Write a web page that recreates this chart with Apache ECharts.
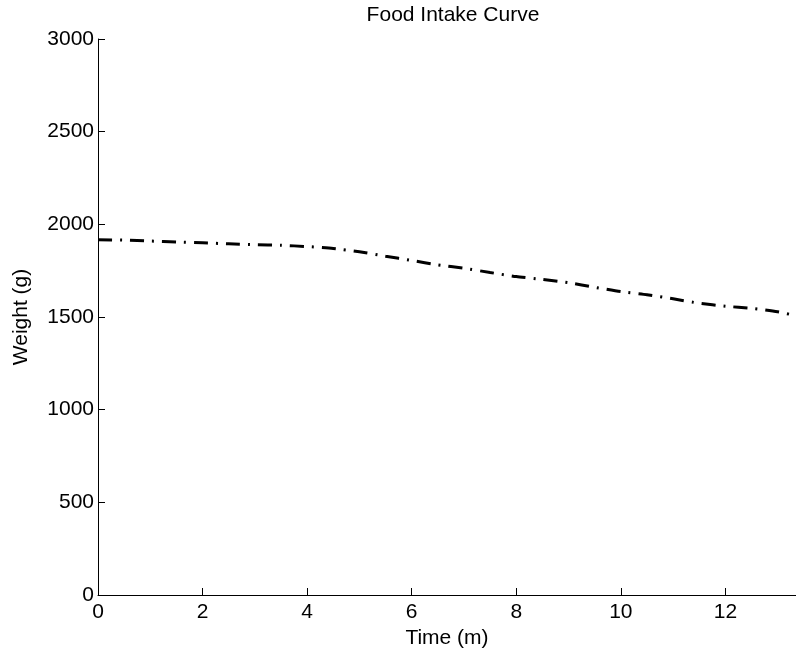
<!DOCTYPE html>
<html>
<head>
<meta charset="utf-8">
<title>Food Intake Curve</title>
<script src="https://cdn.jsdelivr.net/npm/echarts@6/dist/echarts.min.js"></script>
<style>
  html, body { margin: 0; padding: 0; background: #fff; }
  #main { width: 796px; height: 654px; }
</style>
</head>
<body>
<div id="main"></div>
<script type="text/javascript">
  // time in minutes, weight in grams
  var timeData = [0, 0.5, 1, 1.5, 2, 2.5, 3, 3.5, 4, 4.5, 5, 5.5, 6, 6.5, 7, 7.5, 8, 8.5, 9, 9.5, 10, 10.5, 11, 11.5, 12, 12.5, 13, 13.35];
  var weightData = [1917, 1915, 1910, 1905, 1900, 1895, 1890, 1887, 1880, 1870, 1852, 1828, 1805, 1781, 1763, 1740, 1718, 1703, 1685, 1660, 1637, 1620, 1598, 1574, 1558, 1547, 1528, 1507];
  var xTicks = [0, 2, 4, 6, 8, 10, 12];
  var yTicks = [0, 500, 1000, 1500, 2000, 2500, 3000];

  var font = 'Liberation Sans, Arial, sans-serif';
  var points = timeData.map(function (t, i) { return [t, weightData[i]]; });

  var chart = echarts.init(document.getElementById('main'));
  chart.setOption({
    animation: false,
    title: {
      text: 'Food Intake Curve',
      left: 448,
      top: 0,
      textAlign: 'center',
      textStyle: { fontFamily: font, fontSize: 21, fontWeight: 'normal', color: '#000' }
    },
    grid: { left: 98, right: 0, top: 39, bottom: 59 },
    xAxis: {
      type: 'value',
      min: 0,
      max: 13.35,
      interval: 2,
      name: 'Time (m)',
      nameLocation: 'middle',
      nameGap: 32,
      nameTextStyle: { fontFamily: font, fontSize: 21, color: '#000' },
      axisLine: { lineStyle: { color: '#000', width: 1 } },
      axisTick: { inside: true, length: 7, lineStyle: { color: '#000' } },
      axisLabel: {
        fontFamily: font, fontSize: 21, color: '#000', margin: 7,
        showMaxLabel: false,
        formatter: function (v) { return xTicks.indexOf(v) >= 0 ? String(v) : ''; }
      },
      splitLine: { show: false }
    },
    yAxis: {
      type: 'value',
      min: 0,
      max: 3000,
      interval: 500,
      name: 'Weight (g)',
      nameLocation: 'middle',
      nameGap: 66,
      nameTextStyle: { fontFamily: font, fontSize: 21, color: '#000' },
      axisLine: { show: true, lineStyle: { color: '#000', width: 1 } },
      axisTick: { show: true, inside: true, length: 7, lineStyle: { color: '#000' } },
      axisLabel: {
        fontFamily: font, fontSize: 21, color: '#000', margin: 4,
        formatter: function (v) { return yTicks.indexOf(v) >= 0 ? String(v) : ''; }
      },
      splitLine: { show: false }
    },
    series: [{
      type: 'line',
      data: points,
      showSymbol: false,
      smooth: 0.2,
      lineStyle: { color: '#000', width: 3, type: [14, 8, 2, 8] }
    }]
  });
</script>
</body>
</html>
